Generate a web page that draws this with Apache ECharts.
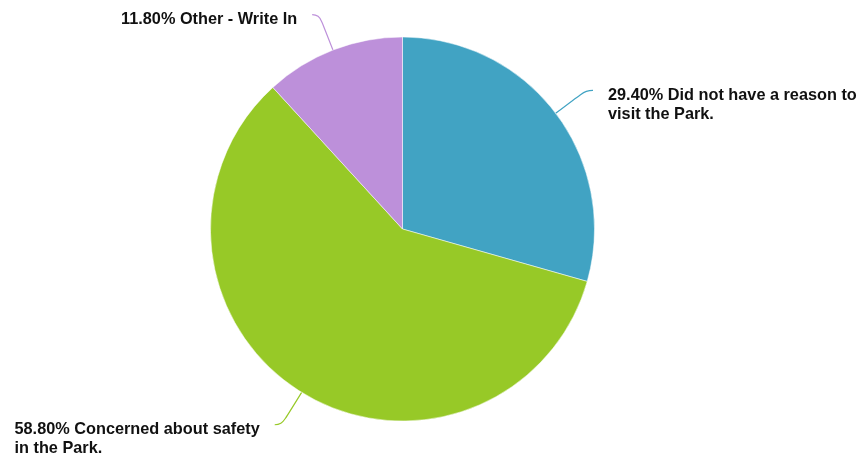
<!DOCTYPE html>
<html>
<head>
<meta charset="utf-8">
<script src="https://cdn.jsdelivr.net/npm/echarts@6/dist/echarts.min.js"></script>
<style>
  html, body { margin: 0; padding: 0; background: #ffffff; }
  #chart { width: 861px; height: 460px; }
</style>
</head>
<body>
<div id="chart"></div>
<script>
// Reasons given for not visiting the Park (percent of responses)
const categories = [
  'Did not have a reason to visit the Park.',
  'Concerned about safety in the Park.',
  'Other - Write In'
];
const percents = [29.4, 58.8, 11.8];
const colors = ['#41a3c3', '#97c927', '#bd90da'];

const FONT_FAMILY = '"Liberation Sans", Arial, sans-serif';
const FONT_SIZE = 16.3;
const LINE_H = 19;
const WRAP_WIDTH = 262;

// Break a label into lines no wider than WRAP_WIDTH
const measureCtx = document.createElement('canvas').getContext('2d');
measureCtx.font = 'bold ' + FONT_SIZE + 'px ' + FONT_FAMILY;
function wrapText(text) {
  const words = text.split(' ');
  const lines = [];
  let cur = '';
  words.forEach((w) => {
    const test = cur ? cur + ' ' + w : w;
    if (cur && measureCtx.measureText(test).width > WRAP_WIDTH) {
      lines.push(cur);
      cur = w;
    } else {
      cur = test;
    }
  });
  if (cur) lines.push(cur);
  return lines;
}

const textStyle = {
  fontFamily: FONT_FAMILY,
  fontWeight: 'bold',
  fontSize: FONT_SIZE,
  lineHeight: LINE_H,
  color: '#111111',
  align: 'left'
};

const chart = echarts.init(document.getElementById('chart'), null, { renderer: 'canvas' });
chart.setOption({
  animation: false,
  series: [{
    type: 'pie',
    left: 0,
    top: 0,
    right: -40,
    bottom: 0,
    center: [402.5, 229],
    radius: [0, 192],
    startAngle: 90,
    clockwise: true,
    avoidLabelOverlap: false,
    itemStyle: { borderColor: '#ffffff', borderWidth: 0.5 },
    label: {
      show: true,
      position: 'outside',
      overflow: 'none',
      distanceToLabelLine: 15,
      formatter: (p) => {
        const lines = wrapText(p.value.toFixed(2) + '% ' + p.name);
        // a spacer line keeps the first text line level with the guide line
        const gap = lines.length > 1 ? '{gap2| }' : '{gap1| }';
        return [gap].concat(lines.map((l) => '{t|' + l + '}')).join('\n');
      },
      rich: {
        t: textStyle,
        gap1: { fontSize: 1, lineHeight: 10 },
        gap2: { fontSize: 1, lineHeight: LINE_H + 10 }
      }
    },
    labelLine: {
      show: true,
      length: 38,
      length2: 7,
      smooth: 0.5,
      lineStyle: { width: 1.2 }
    },
    emphasis: { disabled: true },
    data: categories.map((name, i) => ({
      name: name,
      value: percents[i],
      itemStyle: { color: colors[i] }
    }))
  }]
});
</script>
</body>
</html>
